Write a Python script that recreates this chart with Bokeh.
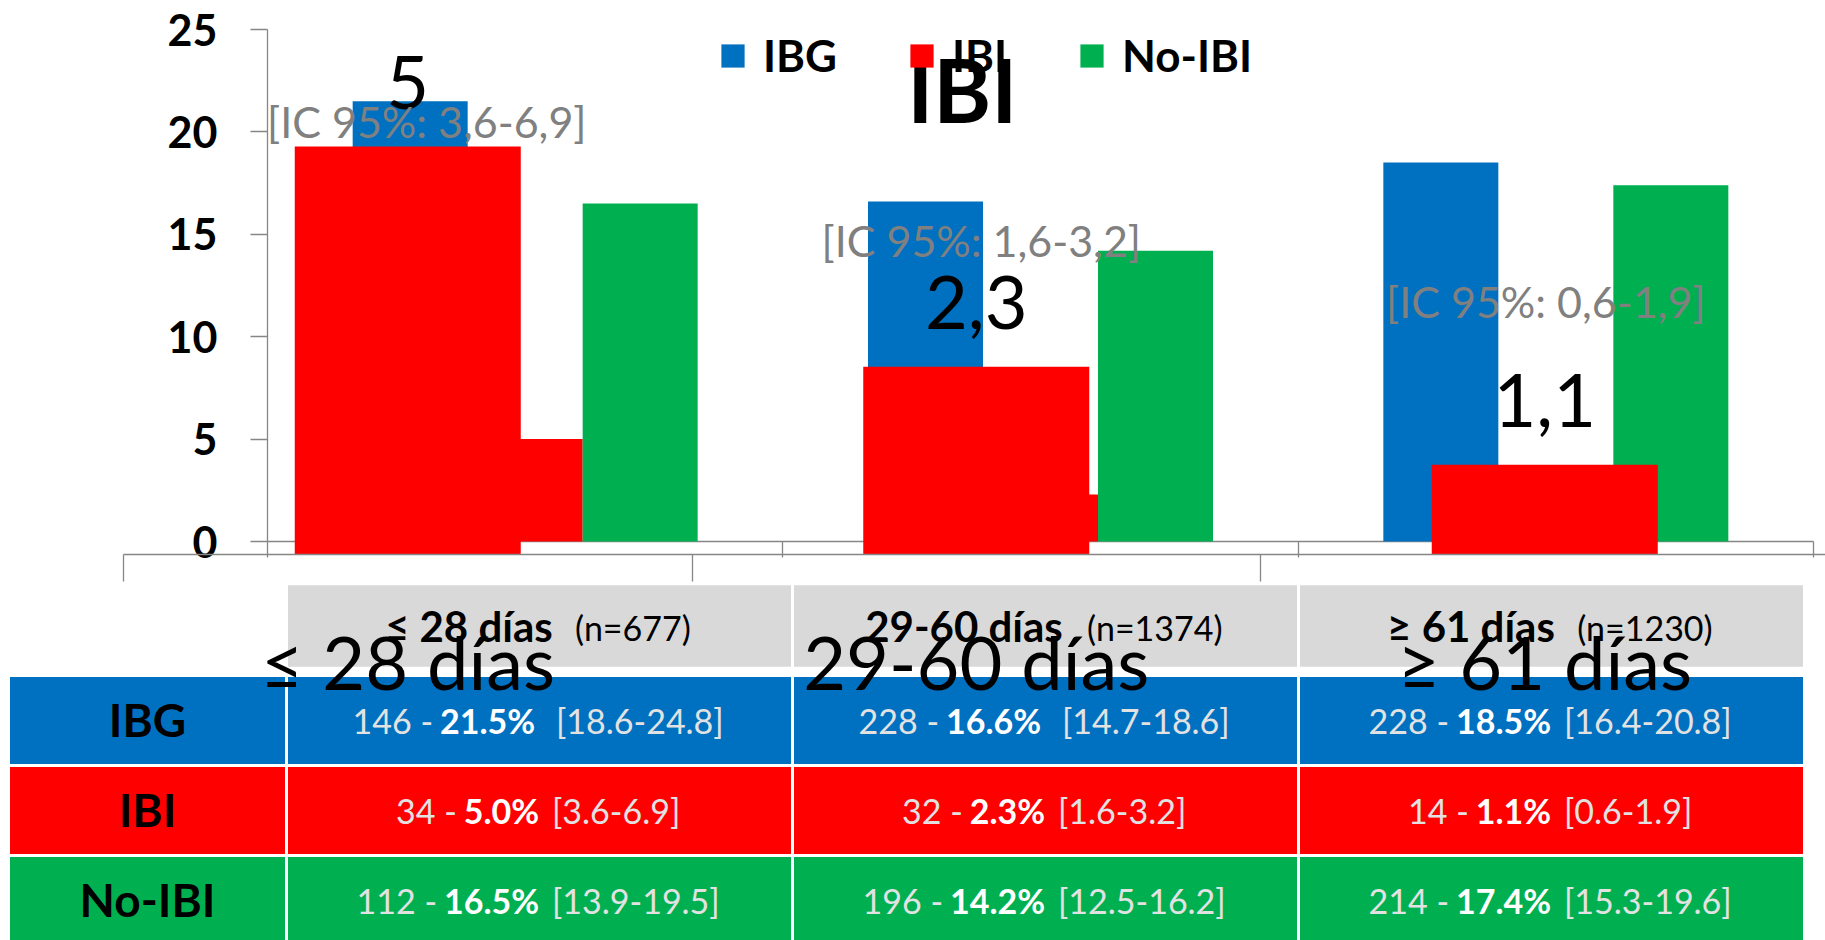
from bokeh.plotting import figure
from bokeh.models import Range1d, LinearAxis, FixedTicker, Legend, LegendItem, ColumnDataSource
from bokeh.core.properties import value
from bokeh.embed import file_html
from bokeh.resources import INLINE

# ---------------- data ----------------
categories = ["≤ 28 días", "29-60 días", "≥ 61 días"]
n_total = [677, 1374, 1230]
series = ["IBG", "IBI", "No-IBI"]
ibg_n = [146, 228, 228]
ibg_pct = [21.5, 16.6, 18.5]
ibg_ci = ["18.6-24.8", "14.7-18.6", "16.4-20.8"]
ibi_n = [34, 32, 14]
ibi_pct = [5.0, 2.3, 1.1]
ibi_ci = ["3.6-6.9", "1.6-3.2", "0.6-1.9"]
noibi_n = [112, 196, 214]
noibi_pct = [16.5, 14.2, 17.4]
noibi_ci = ["13.9-19.5", "12.5-16.2", "15.3-19.6"]
y_ticks = [0, 5, 10, 15, 20, 25]

# ---------------- styles ----------------
BLUE, RED, GREEN = "#0070C0", "#FF0000", "#00B050"
HDR_GRAY = "#D9D9D9"
AXIS_GRAY = "#868686"
IC_GRAY = "#808080"
LIGHT_TXT = "#E2E2E2"
FONT = "Lato"
colors = [BLUE, RED, GREEN]

# ---------------- layout (page pixels) ----------------
W, H, M = 1825, 940, 0
A_X0, A_X3, A_Y0, A_YTOP, A_YMAX = 267, 1813, 541, 29, 25
a_ux = (A_X3 - A_X0) / 3.0
a_uy = (A_Y0 - A_YTOP) / A_YMAX
B_X0, B_UX, B_Y0, B_UY = 123, 568.5, 554, 81.6
T_X0, T_UX, T_Y1, T_UY = 286, 506, 720, 90
T_LEFT = 8

p = figure(width=W, height=H, output_backend="svg", toolbar_location=None,
           x_axis_type=None, y_axis_type=None, min_border=0,
           x_range=Range1d((M - A_X0) / a_ux, (M + W - A_X0) / a_ux),
           y_range=Range1d((A_Y0 - (M + H)) / a_uy, (A_Y0 - M) / a_uy))
p.outline_line_color = None
p.background_fill_color = "white"
p.border_fill_color = "white"
p.extra_x_ranges = {
    "bx": Range1d((M - B_X0) / B_UX, (M + W - B_X0) / B_UX),
    "tx": Range1d((M - T_X0) / T_UX, (M + W - T_X0) / T_UX),
}
p.extra_y_ranges = {
    "by": Range1d((B_Y0 - (M + H)) / B_UY, (B_Y0 - M) / B_UY),
    "ty": Range1d(start=1 + (M + H - T_Y1) / T_UY, end=1 + (M - T_Y1) / T_UY),
}

# ---------------- text width estimate (Lato) ----------------
REG = {" ": 0.193, ".": 0.25, ",": 0.25, "-": 0.36, "%": 0.80, "[": 0.30, "]": 0.30,
       "(": 0.31, ")": 0.31, "=": 0.58, "n": 0.56, "d": 0.58, "í": 0.25, "a": 0.51,
       "s": 0.42, "≤": 0.58, "≥": 0.58}
BOLD = {" ": 0.193, ".": 0.26, ",": 0.26, "-": 0.37, "%": 0.82, "d": 0.59, "í": 0.27,
        "a": 0.53, "s": 0.44, "≤": 0.58, "≥": 0.58}


def tw(s, fs, bold=False):
    tab = BOLD if bold else REG
    return fs * sum(0.58 if ch.isdigit() else tab.get(ch, 0.55) for ch in s)


# ---------------- table ----------------
label_left = (T_LEFT - T_X0) / T_UX
rows_n = [ibg_n, ibi_n, noibi_n]
rows_pct = [ibg_pct, ibi_pct, noibi_pct]
rows_ci = [ibg_ci, ibi_ci, noibi_ci]
HDR_TOP, HDR_BOT = -0.52, 0.42
HDR_MID = (HDR_TOP + HDR_BOT) / 2

# header cells
p.quad(left=[c for c in range(3)], right=[c + 1 for c in range(3)],
       top=[HDR_TOP] * 3, bottom=[HDR_BOT] * 3, fill_color=HDR_GRAY,
       line_color="white", line_width=3, x_range_name="tx", y_range_name="ty")
# body cells
ql, qr, qt, qb, qc = [], [], [], [], []
for r in range(3):
    for c in range(-1, 3):
        ql.append(label_left if c < 0 else c)
        qr.append(0 if c < 0 else c + 1)
        qt.append(r + 0.5)
        qb.append(r + 1.5)
        qc.append(colors[r])
p.quad(left=ql, right=qr, top=qt, bottom=qb, fill_color=qc, line_color="white",
       line_width=3, x_range_name="tx", y_range_name="ty")

# row labels
p.text(x=[label_left / 2] * 3, y=[1, 2, 3], text=series, text_font=value(FONT),
       text_font_size="46px", text_font_style="bold", text_color="black",
       text_align="center", text_baseline="alphabetic", y_offset=-1,
       x_range_name="tx", y_range_name="ty")

# body text in three parts
FS = 34
GAP_L = 7
gap_r = [[20, 20, 12], [12, 12, 12], [12, 12, 12]]
L = dict(x=[], y=[], t=[], xo=[])
Bd = dict(x=[], y=[], t=[], xo=[])
R = dict(x=[], y=[], t=[], xo=[])
for r in range(3):
    for c in range(3):
        lt = f"{rows_n[r][c]} -"
        bt = f"{rows_pct[r][c]:.1f}%"
        rt = f"[{rows_ci[r][c]}]"
        wl, wb, wr = tw(lt, FS), tw(bt, FS, True), tw(rt, FS)
        total = wl + GAP_L + wb + gap_r[r][c] + wr
        s0 = -total / 2
        for d, t, xo in ((L, lt, s0 + wl), (Bd, bt, s0 + wl + GAP_L),
                         (R, rt, s0 + wl + GAP_L + wb + gap_r[r][c])):
            d["x"].append(c + 0.5)
            d["y"].append(r + 1)
            d["t"].append(t)
            d["xo"].append(xo)
for d, align, style, col in ((L, "right", "normal", LIGHT_TXT), (Bd, "left", "bold", "white"),
                             (R, "left", "normal", LIGHT_TXT)):
    p.text(x="x", y="y", text="t", x_offset="xo", source=ColumnDataSource(d),
           text_font=value(FONT), text_font_size=f"{FS}px", text_font_style=style,
           text_color=col, text_align=align, text_baseline="alphabetic", y_offset=0,
           x_range_name="tx", y_range_name="ty")

# header text
HB, HN, HG = 42, 34, 24
hb = dict(x=[], y=[], t=[], xo=[])
hn = dict(x=[], y=[], t=[], xo=[])
for c in range(3):
    bt = categories[c]
    nt = f"(n={n_total[c]})"
    wb, wn = tw(bt, HB, True), tw(nt, HN)
    s0 = -(wb + HG + wn) / 2
    hb["x"].append(c + 0.5); hb["y"].append(HDR_MID); hb["t"].append(bt); hb["xo"].append(s0)
    hn["x"].append(c + 0.5); hn["y"].append(HDR_MID); hn["t"].append(nt); hn["xo"].append(s0 + wb + HG)
p.text(x="x", y="y", text="t", x_offset="xo", source=ColumnDataSource(hb),
       text_font=value(FONT), text_font_size=f"{HB}px", text_font_style="bold",
       text_color="black", text_align="left", text_baseline="alphabetic", y_offset=0,
       x_range_name="tx", y_range_name="ty")
p.text(x="x", y="y", text="t", x_offset="xo", source=ColumnDataSource(hn),
       text_font=value(FONT), text_font_size=f"{HN}px", text_color="black",
       text_align="left", text_baseline="alphabetic", y_offset=1,
       x_range_name="tx", y_range_name="ty")

# ---------------- chart A (grouped bars) ----------------
BW = 115 / a_ux
items = []
for k, (name, vals) in enumerate(zip(series, rows_pct)):
    xs = [i + 0.5 + (k - 1) * BW for i in range(3)]
    rr = p.vbar(x=xs, top=vals, bottom=0, width=BW, fill_color=colors[k], line_color=None)
    items.append(LegendItem(label=name, renderers=[rr]))

yax = LinearAxis(fixed_location=0, ticker=FixedTicker(ticks=y_ticks), bounds=(0, 25),
                 axis_line_color=AXIS_GRAY, axis_line_width=1.3,
                 major_tick_line_color=AXIS_GRAY, major_tick_line_width=1.3,
                 major_tick_out=17, major_tick_in=0, minor_tick_line_color=None,
                 major_label_text_font=FONT, major_label_text_font_size="43px",
                 major_label_text_font_style="bold", major_label_text_color="black",
                 major_label_standoff=33)
yax.level = "underlay"
p.add_layout(yax, "left")

xax = LinearAxis(fixed_location=0, ticker=FixedTicker(ticks=[], minor_ticks=[0, 1, 2, 3]),
                 bounds=(0, 3), axis_line_color=AXIS_GRAY, axis_line_width=1.3,
                 major_tick_line_color=None, minor_tick_line_color=AXIS_GRAY,
                 minor_tick_line_width=1.3, minor_tick_out=16, minor_tick_in=0,
                 major_label_text_font_size="0px")
xax.level = "underlay"
p.add_layout(xax, "below")

# ---------------- chart B (IBI) ----------------
bxs = [i + 0.5 for i in range(3)]
p.vbar(x=bxs, top=ibi_pct, bottom=0, width=226 / B_UX, fill_color=RED, line_color=None,
       x_range_name="bx", y_range_name="by")

bax = LinearAxis(x_range_name="bx", y_range_name="by", fixed_location=0,
                 ticker=FixedTicker(ticks=bxs, minor_ticks=[0, 1, 2, 3]), bounds=(0, 3),
                 major_label_overrides={bxs[i]: categories[i] for i in range(3)},
                 axis_line_color=AXIS_GRAY, axis_line_width=1.3,
                 major_tick_line_color=None, major_tick_out=0, major_tick_in=0,
                 minor_tick_line_color=AXIS_GRAY, minor_tick_line_width=1.3,
                 minor_tick_out=27, minor_tick_in=0,
                 major_label_text_font=FONT, major_label_text_font_size="74px",
                 major_label_text_color="black", major_label_standoff=35)
p.add_layout(bax, "below")

val_labels = [f"{v:g}".replace(".", ",") for v in ibi_pct]
p.text(x=bxs, y=ibi_pct, text=val_labels, text_font=value(FONT), text_font_size="74px",
       text_color="black", text_align="center", text_baseline="alphabetic", y_offset=-64,
       x_range_name="bx", y_range_name="by")

ic_labels = [f"[IC 95%: {c.replace('.', ',')}]" for c in ibi_ci]
p.text(x=bxs, y=ibi_pct, text=ic_labels, x_offset=[19, 5, 1], y_offset=[-25, -126, -163],
       text_font=value(FONT), text_font_size="43px", text_color=IC_GRAY,
       text_align="center", text_baseline="alphabetic",
       x_range_name="bx", y_range_name="by")

title_r = p.text(x=[1.5], y=[p.extra_y_ranges["by"].end], text=[series[1]],
                 x_offset=-14, y_offset=88, text_font=value(FONT), text_font_size="88px",
                 text_font_style="bold", text_color="black", text_align="center",
                 text_baseline="alphabetic", x_range_name="bx", y_range_name="by")

legend = Legend(items=items, location=(718, 859), orientation="horizontal",
                glyph_width=29, glyph_height=29, label_standoff=16, spacing=70,
                padding=0, margin=0, border_line_color=None, background_fill_alpha=0,
                label_text_font=FONT, label_text_font_size="44px",
                label_text_font_style="bold", label_text_color="black")
p.add_layout(legend)
title_r.level = "overlay"

open("out.html", "w").write(file_html(p, INLINE))
